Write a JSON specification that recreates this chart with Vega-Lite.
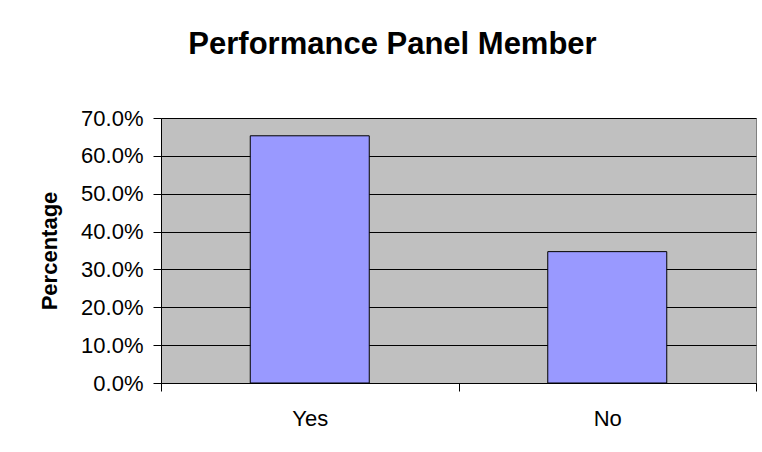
{
  "$schema": "https://vega.github.io/schema/vega-lite/v6.json",
  "autosize": {"type": "none"},
  "padding": {"left": 161, "top": 118, "right": 6, "bottom": 69},
  "width": 595,
  "height": 265,
  "background": "white",
  "title": {
    "text": "Performance Panel Member",
    "font": "Liberation Sans",
    "fontSize": 31,
    "fontWeight": "bold",
    "color": "black",
    "anchor": "middle",
    "dx": -66,
    "offset": 46
  },
  "data": {
    "values": [
      {"answer": "Yes", "pct": 0.653},
      {"answer": "No", "pct": 0.347}
    ]
  },
  "mark": {"type": "bar", "color": "#9999FF", "stroke": "black", "strokeWidth": 1, "width": {"band": 0.4}},
  "encoding": {
    "x": {
      "field": "answer",
      "type": "nominal",
      "sort": ["Yes", "No"],
      "scale": {"paddingInner": 0, "paddingOuter": 0},
      "axis": {
        "title": null,
        "labelAngle": 0,
        "tickBand": "extent",
        "tickSize": 8,
        "tickColor": "black",
        "domainColor": "black",
        "labelPadding": 17,
        "labelFontSize": 22,
        "labelFont": "Liberation Sans",
        "labelColor": "black",
        "grid": false
      }
    },
    "y": {
      "field": "pct",
      "type": "quantitative",
      "scale": {"domain": [0, 0.7], "nice": false},
      "axis": {
        "title": "Percentage",
        "titleFont": "Liberation Sans",
        "titleFontSize": 22,
        "titleFontWeight": "bold",
        "titleColor": "black",
        "titlePadding": 19,
        "format": ".1%",
        "values": [0, 0.1, 0.2, 0.3, 0.4, 0.5, 0.6, 0.7],
        "tickSize": 8,
        "tickColor": "black",
        "domainColor": "black",
        "labelPadding": 10,
        "labelFontSize": 22,
        "labelFont": "Liberation Sans",
        "labelColor": "black",
        "grid": true,
        "gridColor": "black",
        "gridOpacity": 1
      }
    }
  },
  "config": {
    "view": {"fill": "#C0C0C0", "stroke": "#808080", "strokeWidth": 1},
    "axis": {"domainWidth": 1, "tickWidth": 1, "gridWidth": 1}
  }
}
